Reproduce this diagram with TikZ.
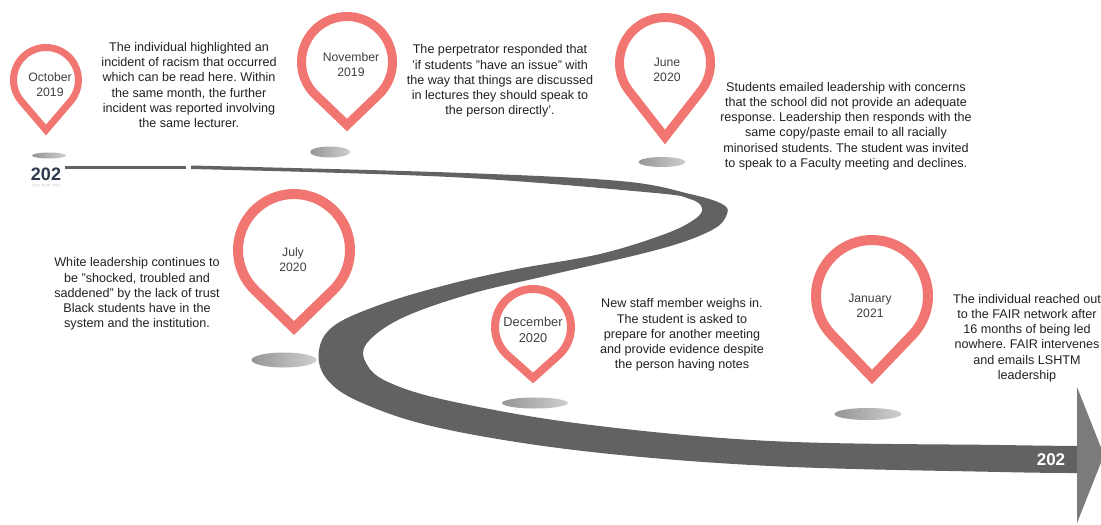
\documentclass[tikz,border=0pt]{standalone}
\usepackage{fontspec}
\setmainfont{Liberation Sans}
\frenchspacing
\definecolor{pinred}{HTML}{F17671}
\definecolor{txtgray}{HTML}{222222}
\definecolor{pintxtgray}{HTML}{404040}
\definecolor{bandgray}{HTML}{626262}
\definecolor{headgray}{HTML}{7B7B7B}
\definecolor{shL}{HTML}{959595}
\definecolor{shR}{HTML}{CFCFCF}
\definecolor{navy}{HTML}{2E3B4E}
\tikzset{
  txt/.style={align=center, text=txtgray, font=\fontsize{12.6}{15.2}\selectfont, inner sep=0pt},
  pintxt/.style={align=center, text=pintxtgray, font=\fontsize{12.2}{15}\selectfont, inner sep=0pt},
  pinline/.style={draw=pinred, fill=white, line join=miter, miter limit=10},
  shadowel/.style={left color=shL, right color=shR, draw=none},
  bandfill/.style={fill=bandgray, draw=none},
}
\newcommand\mypin[5]{%
  \pgfmathsetmacro\pinbeta{acos(#3/#4)}%
  \begin{scope}[shift={(#1,#2)}]
    \draw[pinline, line width=#5] (0,#4) -- (90+\pinbeta:#3)
      arc[start angle=90+\pinbeta, end angle=450-\pinbeta, radius=#3] -- cycle;
  \end{scope}}
\begin{document}
\begin{tikzpicture}[x=1pt,y=-1pt]
\useasboundingbox (0,0) rectangle (1101,525);
\fill[white] (0,0) rectangle (1101,525);

% ribbon
\fill[bandfill] (65,165.5) rectangle (186,169);
\fill[bandfill] (191,165.5) -- plot[smooth, tension=0.6] coordinates {(191,165.5) (450,172.5) (620,181) (690,194) (722,204) (727,214) (712,230) (660,249) (550,275) (470,294) (402,318) (367,343) (366,363) (388,382) (450,401) (583,424) (770,441) (1000,445) (1077,446)}
  -- (1077,473) -- plot[smooth, tension=0.6] coordinates {(1077,473) (1000,472) (770,466) (583,451) (440,428) (360,402) (326,378) (319,350) (335,325) (385,303) (450,284) (517,269) (600,254) (665,234) (695,219) (702,208) (690,199) (650,192.5) (450,177) (191,169)} -- cycle;
\fill[headgray] (1077,387) -- (1104,455) -- (1077,523) -- cycle;
\node[name=endyear, text=white, font=\bfseries\fontsize{17}{17}\selectfont, inner sep=0pt] at (1051,460) {202};
\node[name=startyear, text=navy, font=\bfseries\fontsize{18}{18}\selectfont, inner sep=0pt] at (46,174) {202};
\node[name=startrefl, text=gray!25, font=\bfseries\fontsize{18}{18}\selectfont, inner sep=0pt, yscale=-0.2] at (46,186) {202};

% shadows
\shade[shadowel] (49,155.5) ellipse [x radius=17, y radius=3];
\shade[shadowel] (330,152) ellipse [x radius=20, y radius=5.5];
\shade[shadowel] (662,162) ellipse [x radius=23.5, y radius=5];
\shade[shadowel] (284,360) ellipse [x radius=32.5, y radius=7.5];
\shade[shadowel] (535,403) ellipse [x radius=33, y radius=5.5];
\shade[shadowel] (868,414) ellipse [x radius=33.5, y radius=6];

% pins
\mypin{46}{80}{32.5}{50}{7pt}
\mypin{347}{62}{45.5}{63}{9pt}
\mypin{665}{63}{45.5}{74}{9pt}
\mypin{294}{250}{56}{78}{10pt}
\mypin{533}{327}{38}{51}{8pt}
\mypin{872}{296}{56}{81}{10pt}

\node[pintxt, name=p1] at (50,84.5) {October\\2019};
\node[pintxt, name=p2] at (351,65) {November\\2019};
\node[pintxt, name=p3] at (667,70) {June\\2020};
\node[pintxt, name=p4] at (293,259.5) {July\\2020};
\node[pintxt, name=p5, font=\fontsize{12.8}{15.5}\selectfont] at (533,330) {December\\2020};
\node[pintxt, name=p6] at (870,305.5) {January\\2021};

% texts
\node[txt, name=t1] at (189,85) {The individual highlighted an\\incident of racism that occurred\\which can be read here. Within\\the same month, the further\\incident was reported involving\\the same lecturer.};
\node[txt, name=t2] at (500,81) {The perpetrator responded that\\'if students "have an issue" with\\the way that things are discussed\\in lectures they should speak to\\the person directly'.};
\node[txt, name=t3] at (846,126) {Students emailed leadership with concerns\\that the school did not provide an adequate\\response. Leadership then responds with the\\same copy/paste email to all racially\\minorised students. The student was invited\\to speak to a Faculty meeting and declines.};
\node[txt, name=t4] at (137,294) {White leadership continues to\\be "shocked, troubled and\\saddened" by the lack of trust\\Black students have in the\\system and the institution.};
\node[txt, name=t5] at (682,335) {New staff member weighs in.\\The student is asked to\\prepare for another meeting\\and provide evidence despite\\the person having notes};
\node[txt, name=t6] at (1027,338) {The individual reached out\\to the FAIR network after\\16 months of being led\\nowhere. FAIR intervenes\\and emails LSHTM\\leadership};
\end{tikzpicture}
\end{document}
